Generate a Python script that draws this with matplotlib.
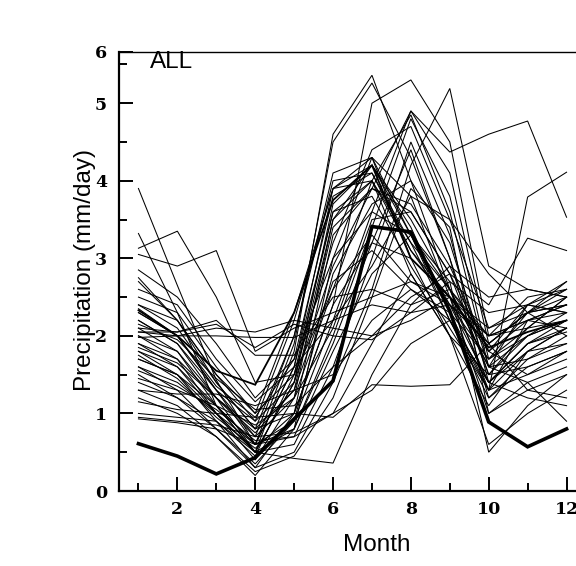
import matplotlib
matplotlib.use("Agg")
import matplotlib.pyplot as plt
from matplotlib.ticker import FixedLocator, MultipleLocator

months = list(range(1, 13))

# Observed climatology (mm/day)
observed = [0.61, 0.45, 0.22, 0.43, 0.93, 1.42, 3.41, 3.34, 2.32, 0.89, 0.57, 0.80]

# Multi-model mean
model_mean = [2.33, 2.00, 1.55, 1.37, 2.30, 3.75, 4.20, 3.00, 2.50, 1.85, 2.05, 2.20]

# Individual model climatologies, grouped by the shape of their annual cycle
july_peak = [
    [2.30, 2.00, 1.30, 0.60, 1.60, 3.90, 4.30, 3.30, 2.40, 1.40, 1.90, 2.20],
    [2.20, 1.90, 1.20, 0.50, 1.40, 3.70, 4.20, 3.50, 2.60, 1.60, 2.00, 2.30],
    [1.80, 1.60, 1.00, 0.40, 1.20, 3.50, 4.00, 3.20, 2.20, 1.20, 1.70, 2.00],
    [2.40, 2.10, 1.40, 0.80, 2.00, 4.10, 4.30, 3.00, 2.00, 1.10, 1.80, 2.10],
    [1.60, 1.30, 0.80, 0.30, 1.00, 3.30, 3.90, 3.60, 2.80, 1.50, 1.60, 1.80],
    [2.00, 1.80, 1.10, 0.50, 1.80, 4.60, 5.36, 4.00, 2.60, 1.30, 2.20, 2.40],
    [1.90, 1.70, 1.00, 0.60, 1.90, 4.50, 5.26, 4.30, 3.00, 1.50, 2.10, 2.50],
    [1.20, 1.00, 0.70, 0.20, 0.80, 3.00, 4.30, 3.80, 2.50, 1.00, 1.30, 1.50],
    [2.70, 2.20, 1.50, 0.90, 2.20, 3.90, 4.20, 3.40, 2.30, 1.70, 2.30, 2.60],
    [1.70, 1.50, 0.90, 0.45, 1.50, 3.60, 3.80, 2.90, 2.10, 1.30, 1.80, 1.90],
    [2.10, 1.80, 1.20, 0.70, 2.00, 4.00, 4.10, 3.10, 2.50, 1.80, 2.20, 2.40],
    [1.50, 1.20, 0.80, 0.35, 0.90, 2.80, 3.70, 4.00, 3.20, 1.60, 1.70, 1.90],
    [2.50, 2.30, 1.60, 1.00, 2.30, 3.90, 4.00, 2.80, 2.00, 1.50, 2.00, 2.20],
]

august_peak = [
    [1.90, 1.60, 1.10, 0.60, 0.90, 2.20, 3.60, 4.90, 4.10, 1.90, 2.30, 2.00],
    [1.80, 1.50, 1.00, 0.50, 0.80, 2.00, 3.40, 4.80, 3.80, 1.70, 2.10, 2.20],
    [2.30, 2.00, 1.30, 0.70, 1.20, 2.60, 4.00, 4.85, 3.60, 1.60, 2.40, 2.30],
    [1.60, 1.40, 1.00, 0.50, 0.60, 1.60, 3.00, 4.50, 3.30, 1.40, 1.90, 2.10],
    [2.00, 1.70, 1.20, 0.80, 1.00, 2.40, 5.00, 5.30, 4.50, 2.00, 2.50, 2.60],
    [1.40, 1.20, 0.90, 0.30, 0.50, 1.40, 2.60, 4.20, 5.19, 2.90, 2.60, 2.50],
    [2.20, 1.90, 1.30, 0.90, 1.40, 2.90, 3.90, 4.90, 4.37, 4.60, 4.77, 3.53],
    [1.70, 1.50, 1.10, 0.60, 0.80, 1.90, 3.20, 4.40, 3.00, 1.20, 1.60, 1.80],
    [2.40, 2.20, 1.50, 1.00, 1.50, 3.20, 4.40, 4.70, 3.50, 2.10, 2.40, 2.70],
    [1.30, 1.10, 0.70, 0.25, 0.45, 1.20, 2.50, 3.90, 3.40, 1.00, 1.40, 1.60],
]

flat_cycle = [
    [2.05, 2.05, 2.15, 1.85, 2.15, 2.00, 1.95, 2.30, 2.70, 2.30, 2.40, 2.30],
    [2.05, 2.00, 2.10, 2.05, 2.20, 2.10, 2.00, 2.20, 2.50, 2.00, 2.20, 2.10],
    [1.98, 2.00, 2.00, 1.98, 1.98, 2.20, 2.40, 2.30, 2.40, 1.90, 2.30, 2.40],
    [2.10, 2.05, 2.20, 1.75, 1.75, 2.50, 2.60, 2.40, 2.90, 2.50, 2.60, 2.50],
]

dry_cycle = [
    [0.95, 0.90, 0.85, 0.70, 0.75, 1.00, 1.30, 1.90, 2.20, 1.40, 1.20, 1.10],
    [1.15, 1.05, 1.00, 0.95, 1.00, 0.95, 1.37, 1.35, 1.37, 1.90, 1.30, 1.20],
    [1.00, 0.95, 0.90, 0.50, 0.42, 0.36, 1.50, 2.40, 2.60, 1.60, 1.40, 0.90],
    [0.93, 0.88, 0.80, 0.60, 0.70, 1.00, 1.90, 2.80, 2.00, 0.60, 1.00, 1.30],
    [1.30, 1.25, 1.25, 1.10, 1.30, 1.50, 2.20, 2.60, 2.30, 1.30, 1.50, 1.80],
]

wet_winter = [
    [3.90, 2.65, 1.43, 0.60, 1.60, 3.60, 4.00, 3.10, 2.40, 1.70, 2.00, 2.20],
    [3.32, 2.30, 1.10, 0.50, 1.40, 3.50, 4.20, 3.30, 2.20, 1.40, 1.80, 2.10],
    [3.13, 3.35, 2.50, 1.40, 1.50, 2.60, 3.30, 2.70, 2.50, 2.10, 2.30, 2.40],
    [3.05, 2.90, 3.10, 1.80, 2.10, 2.30, 2.50, 2.70, 2.40, 2.00, 2.20, 2.30],
    [2.85, 2.50, 1.90, 1.20, 1.70, 3.80, 4.10, 3.20, 2.60, 1.90, 2.30, 2.50],
    [2.75, 2.20, 1.40, 0.80, 1.30, 3.40, 3.90, 3.70, 2.90, 1.80, 2.40, 2.60],
]

mixed_cycle = [
    [1.75, 1.45, 0.95, 0.55, 1.00, 2.40, 3.20, 3.00, 2.50, 1.40, 1.90, 2.05],
    [2.35, 2.00, 1.35, 0.95, 1.70, 3.00, 3.60, 3.30, 2.60, 2.00, 2.10, 2.50],
    [1.55, 1.35, 1.05, 0.65, 0.70, 1.80, 2.80, 3.30, 2.70, 0.50, 1.10, 1.50],
    [2.15, 1.95, 1.45, 1.05, 1.10, 1.60, 2.00, 2.50, 2.80, 2.40, 3.26, 3.10],
    [1.85, 1.65, 1.20, 0.75, 1.30, 2.70, 3.10, 2.60, 2.20, 1.30, 3.79, 4.11],
    [2.60, 2.40, 1.70, 1.15, 1.60, 2.20, 2.90, 3.80, 3.50, 2.80, 2.30, 2.70],
    [1.45, 1.30, 1.10, 0.85, 1.20, 2.10, 3.50, 3.60, 2.80, 1.80, 1.50, 1.70],
]

x_major = [2, 4, 6, 8, 10, 12]
y_top = 5.66
y_ticks = [0, 1, 2, 3, 4, 5, y_top]
y_ticklabels = ["0", "1", "2", "3", "4", "5", "6"]

fig = plt.figure(figsize=(5.76, 5.66), dpi=100)
ax = fig.add_axes([119 / 576, 75 / 566, 467 / 576, 439 / 566])

for group in (july_peak, august_peak, flat_cycle, dry_cycle, wet_winter, mixed_cycle):
    for series in group:
        ax.plot(months, series, color="black", lw=0.75, solid_joinstyle="miter")

ax.plot(months, model_mean, color="black", lw=1.3, solid_joinstyle="miter")
ax.plot(months, observed, color="black", lw=2.6, solid_joinstyle="miter")

ax.set_xlim(0.5, 12.5)
ax.set_ylim(0, y_top)

ax.xaxis.set_major_locator(FixedLocator(x_major))
ax.xaxis.set_minor_locator(MultipleLocator(2, offset=1))
ax.set_xticklabels([str(v) for v in x_major])
ax.yaxis.set_major_locator(FixedLocator(y_ticks))
ax.yaxis.set_minor_locator(MultipleLocator(0.5))
ax.set_yticklabels(y_ticklabels)

for lab in ax.get_xticklabels() + ax.get_yticklabels():
    lab.set_fontfamily("DejaVu Serif")
    lab.set_fontweight("bold")
    lab.set_fontsize(12.5)

ax.tick_params(which="both", direction="in", width=1.4, top=False, right=False)
ax.tick_params(which="major", length=10)
ax.tick_params(which="minor", length=5.5)
ax.tick_params(axis="x", which="major", pad=7.5)
ax.tick_params(axis="y", which="major", pad=8.5)

for side in ("left", "bottom"):
    ax.spines[side].set_linewidth(1.6)
for side in ("top", "right"):
    ax.spines[side].set_linewidth(1.0)

label_font = dict(family="Liberation Sans", size=17.5)
ax.set_xlabel("Month", **label_font)
ax.xaxis.set_label_coords((377 - 119) / 467, (491 - 545) / 439)
ax.xaxis.label.set_verticalalignment("center")
ax.set_ylabel("Precipitation (mm/day)", **label_font)
ax.yaxis.set_label_coords((85 - 119) / 467, 0.503)
ax.yaxis.label.set_verticalalignment("center")
ax.yaxis.label.set_horizontalalignment("center")

ax.text((150 - 119) / 467, (491 - 62) / 439, "ALL", transform=ax.transAxes,
        ha="left", va="center", family="Liberation Sans", size=17.5)

fig.savefig("out.png", dpi=100)
